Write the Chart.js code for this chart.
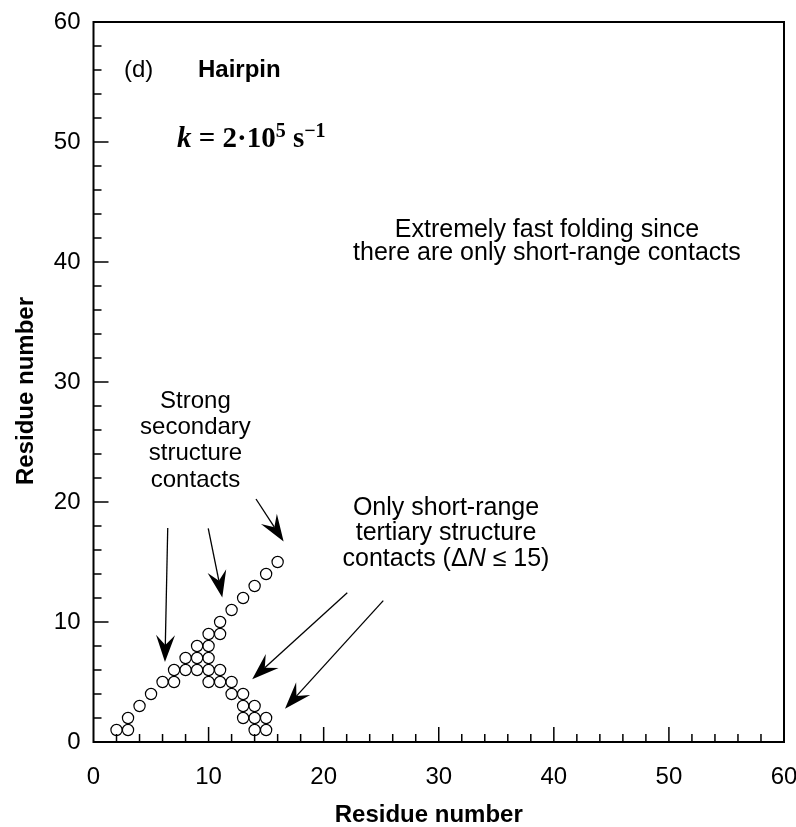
<!DOCTYPE html>
<html>
<head>
<meta charset="utf-8">
<script src="https://cdn.jsdelivr.net/npm/chart.js@4"></script>
<style>
  html, body { margin: 0; padding: 0; background: #fff; }
  canvas { display: block; }
</style>
</head>
<body>
<canvas id="chart" width="796" height="827"></canvas>
<script>
// contact map of the hairpin: residue i (x) against residue j (y)
var residueI = [2, 3, 3, 4, 5, 6, 7, 7, 8, 8, 9, 9, 9, 10, 10, 10, 10, 10, 11, 11, 11, 11,
                12, 12, 12, 13, 13, 13, 13, 14, 14, 14, 14, 15, 15, 15, 16];
var residueJ = [1, 1, 2, 3, 4, 5, 5, 6, 6, 7, 6, 7, 8, 5, 6, 7, 8, 9, 5, 6, 9, 10,
                4, 5, 11, 2, 3, 4, 12, 1, 2, 3, 13, 1, 2, 14, 15];
var axisMin = 0;
var axisMax = 60;
var majorStep = 10;
var minorStep = 2;
var axisTitle = 'Residue number';

var SANS = '"Liberation Sans", Arial, Helvetica, sans-serif';
var SERIF = '"Liberation Serif", "Times New Roman", serif';

var points = residueI.map(function (xi, n) { return {x: xi, y: residueJ[n]}; });

// draw a row of text runs (different fonts) centred or left-aligned at px,py
function runs(ctx, list, px, py, align) {
  var total = 0;
  list.forEach(function (r) { ctx.font = r.f; r.w = ctx.measureText(r.t).width; total += r.w; });
  var cx = align === 'left' ? px : px - total / 2;
  list.forEach(function (r) {
    ctx.font = r.f;
    ctx.fillText(r.t, cx, py - (r.dy || 0));
    cx += r.w;
  });
}

function arrow(ctx, x0, y0, x1, y1) {
  var dx = x1 - x0, dy = y1 - y0;
  var d = Math.sqrt(dx * dx + dy * dy);
  var ux = dx / d, uy = dy / d, nx = -uy, ny = ux;
  var L = 27, W = 9.5, notch = 17;
  ctx.beginPath();
  ctx.moveTo(x0, y0);
  ctx.lineTo(x1 - ux * notch, y1 - uy * notch);
  ctx.stroke();
  ctx.beginPath();
  ctx.moveTo(x1, y1);
  ctx.lineTo(x1 - ux * L + nx * W, y1 - uy * L + ny * W);
  ctx.lineTo(x1 - ux * notch, y1 - uy * notch);
  ctx.lineTo(x1 - ux * L - nx * W, y1 - uy * L - ny * W);
  ctx.closePath();
  ctx.fill();
}

var notes = {
  id: 'notes',
  afterDraw: function (chart) {
    var ctx = chart.ctx, a = chart.chartArea;
    var sx = chart.scales.x, sy = chart.scales.y;
    var X = function (v) { return sx.getPixelForValue(v); };
    var Y = function (v) { return sy.getPixelForValue(v); };
    ctx.save();
    ctx.strokeStyle = '#000';
    ctx.fillStyle = '#000';

    // frame
    ctx.lineWidth = 2;
    ctx.strokeRect(a.left, a.top, a.right - a.left, a.bottom - a.top);

    // inward ticks on bottom and left only
    ctx.lineWidth = 1.5;
    ctx.beginPath();
    for (var v = axisMin + minorStep; v < axisMax; v += minorStep) {
      var len = v % majorStep === 0 ? 15 : 8;
      ctx.moveTo(X(v), a.bottom);
      ctx.lineTo(X(v), a.bottom - len);
      ctx.moveTo(a.left, Y(v));
      ctx.lineTo(a.left + len, Y(v));
    }
    ctx.stroke();

    // axis titles (sit a little off-centre in the original)
    ctx.font = 'bold 24px ' + SANS;
    ctx.textAlign = 'center';
    ctx.textBaseline = 'alphabetic';
    ctx.fillText(axisTitle, (a.left + a.right) / 2 - 10, 822);
    ctx.save();
    ctx.translate(33, (a.top + a.bottom) / 2 + 9);
    ctx.rotate(-Math.PI / 2);
    ctx.fillText(axisTitle, 0, 0);
    ctx.restore();

    // arrows
    ctx.lineWidth = 1.3;
    arrow(ctx, X(6.45), Y(17.83), X(6.21), Y(6.67));
    arrow(ctx, X(9.97), Y(17.81), X(11.19), Y(12.04));
    arrow(ctx, X(14.12), Y(20.25), X(16.52), Y(16.71));
    arrow(ctx, X(22.05), Y(12.44), X(13.79), Y(5.23));
    arrow(ctx, X(25.18), Y(11.78), X(16.64), Y(2.78));

    // panel label
    ctx.textBaseline = 'middle';
    ctx.textAlign = 'left';
    ctx.font = '24px ' + SANS;
    ctx.fillText('(d)', X(2.65), Y(56));
    ctx.font = 'bold 24px ' + SANS;
    ctx.fillText('Hairpin', X(9.08), Y(56));

    // rate constant
    ctx.textBaseline = 'alphabetic';
    runs(ctx, [
      {t: 'k', f: 'italic bold 29px ' + SERIF},
      {t: ' = 2\u00b710', f: 'bold 29px ' + SERIF},
      {t: '5', f: 'bold 20px ' + SERIF, dy: 10},
      {t: ' s', f: 'bold 29px ' + SERIF},
      {t: '\u22121', f: 'bold 20px ' + SERIF, dy: 10}
    ], X(7.25), Y(49.6), 'left');

    // remarks
    ctx.textBaseline = 'middle';
    ctx.textAlign = 'left';
    var f25 = '25px ' + SANS, f24 = '24px ' + SANS;
    runs(ctx, [{t: 'Extremely fast folding since', f: f25}], X(39.4), Y(42.63));
    runs(ctx, [{t: 'there are only short-range contacts', f: f25}], X(39.4), Y(40.71));

    runs(ctx, [{t: 'Strong', f: f24}], X(8.86), Y(28.37));
    runs(ctx, [{t: 'secondary', f: f24}], X(8.86), Y(26.22));
    runs(ctx, [{t: 'structure', f: f24}], X(8.86), Y(24.05));
    runs(ctx, [{t: 'contacts', f: f24}], X(8.86), Y(21.83));

    runs(ctx, [{t: 'Only short-range', f: f25}], X(30.63), Y(19.5));
    runs(ctx, [{t: 'tertiary structure', f: f25}], X(30.63), Y(17.37));
    runs(ctx, [
      {t: 'contacts (\u0394', f: f25},
      {t: 'N', f: 'italic 25px ' + SANS},
      {t: ' \u2264 15)', f: f25}
    ], X(30.63), Y(15.25));

    ctx.restore();
  }
};

var ctx = document.getElementById('chart').getContext('2d');
var chart = new Chart(ctx, {
  type: 'scatter',
  data: {
    datasets: [{
      data: points,
      pointRadius: 5.6,
      pointHoverRadius: 5.6,
      pointBorderWidth: 1.2,
      borderColor: '#000',
      backgroundColor: 'rgba(0,0,0,0)'
    }]
  },
  options: {
    responsive: false,
    animation: false,
    events: [],
    layout: {padding: {top: 22, right: 12, left: 0, bottom: 0}},
    plugins: {legend: {display: false}, tooltip: {enabled: false}},
    scales: {
      x: {
        type: 'linear', min: axisMin, max: axisMax,
        ticks: {stepSize: majorStep, color: '#000', padding: 21, maxRotation: 0,
                font: {family: SANS, size: 24}},
        grid: {display: false, drawTicks: false},
        border: {display: false},
        title: {display: false},
        afterFit: function (s) { s.height = 85; s.paddingRight = 0; s.paddingLeft = 0; }
      },
      y: {
        type: 'linear', min: axisMin, max: axisMax,
        ticks: {stepSize: majorStep, color: '#000', padding: 13,
                font: {family: SANS, size: 24}},
        grid: {display: false, drawTicks: false},
        border: {display: false},
        title: {display: false},
        afterFit: function (s) { s.width = 93.5; s.paddingTop = 0; s.paddingBottom = 0; }
      }
    }
  },
  plugins: [notes]
});
</script>
</body>
</html>
